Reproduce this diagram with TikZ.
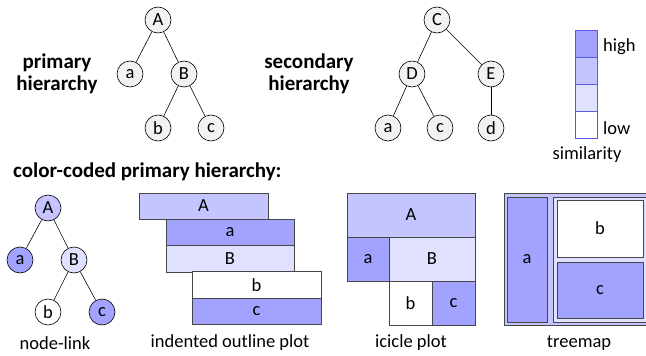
\documentclass[tikz,border=0pt]{standalone}
\usepackage{fontspec}
\setmainfont{Carlito}
\definecolor{cdark}{RGB}{162,162,255}
\definecolor{cmed}{RGB}{196,196,255}
\definecolor{clight}{RGB}{224,224,255}
\definecolor{cgray}{RGB}{242,242,242}
\definecolor{cborder}{RGB}{70,70,70}
\definecolor{clegend}{RGB}{90,90,230}
\begin{document}
\begin{tikzpicture}[x=1pt,y=-1pt,
  tn/.style={circle,draw=black,line width=0.6pt,minimum size=26pt,inner sep=0pt,font=\fontsize{18.5}{18.5}\selectfont},
  gn/.style={tn,fill=cgray},
  edge/.style={line width=0.6pt,black},
  box/.style={draw=cborder,line width=0.8pt,inner sep=0pt,font=\fontsize{18.5}{18.5}\selectfont},
  lab/.style={font=\fontsize{18.5}{18.5}\selectfont,inner sep=0pt},
  head/.style={font=\fontsize{21}{22}\selectfont\bfseries,align=center,inner sep=0pt}]
\useasboundingbox (0,0) rectangle (646,356);
% primary hierarchy
\node[head] (ph) at (57,74) {primary\\hierarchy};
\node[gn] (pA) at (158,20) {A};
\node[gn] (pa) at (130,74) {a};
\node[gn] (pB) at (184,74) {B};
\node[gn] (pb) at (158,128) {b};
\node[gn] (pc) at (211,128) {c};
\draw[edge] (pA) -- (pa); \draw[edge] (pA) -- (pB);
\draw[edge] (pB) -- (pb); \draw[edge] (pB) -- (pc);
% secondary hierarchy
\node[head] (sh) at (309,74) {secondary\\hierarchy};
\node[gn] (sC) at (437,20) {C};
\node[gn] (sD) at (412,74) {D};
\node[gn] (sE) at (491,74) {E};
\node[gn] (sa) at (388,128) {a};
\node[gn] (sc) at (440,128) {c};
\node[gn] (sd) at (491,128) {d};
\draw[edge] (sC) -- (sD); \draw[edge] (sC) -- (sE);
\draw[edge] (sD) -- (sa); \draw[edge] (sD) -- (sc);
\draw[edge] (sE) -- (sd);
% legend
\fill[cdark] (575,30) rectangle (597,57);
\fill[cmed] (575,57) rectangle (597,84);
\fill[clight] (575,84) rectangle (597,111);
\fill[white] (575,111) rectangle (597,138);
\draw[clegend,line width=0.6pt] (575,57) -- (597,57) (575,84) -- (597,84) (575,111) -- (597,111);
\draw[clegend,line width=0.8pt] (575,30) rectangle (597,138);
\node[lab,anchor=west] (lhigh) at (603,47) {high};
\node[lab,anchor=west] (llow) at (603,128) {low};
\node[lab] (lsim) at (587,155) {similarity};
% heading
\node[head,anchor=west] (cc) at (13,172) {color-coded primary hierarchy:};
% node-link
\node[tn,fill=cmed] (nA) at (48,208) {A};
\node[tn,fill=cdark] (na) at (20,260) {a};
\node[tn,fill=clight] (nB) at (74,260) {B};
\node[tn,fill=white] (nb) at (48,312) {b};
\node[tn,fill=cdark] (nc) at (102,312) {c};
\draw[edge] (nA) -- (na); \draw[edge] (nA) -- (nB);
\draw[edge] (nB) -- (nb); \draw[edge] (nB) -- (nc);
\node[lab] (lnl) at (55,343) {node-link};
% indented outline
\node[box,fill=cmed,minimum width=129pt,minimum height=26pt] (oA) at (203.5,206) {A};
\node[box,fill=cdark,minimum width=128pt,minimum height=26.5pt] (oa) at (230,232.5) {a};
\node[box,fill=clight,minimum width=128pt,minimum height=26.5pt] (oB) at (230,259) {B};
\node[box,fill=white,minimum width=129pt,minimum height=26.5pt] (ob) at (256.5,285) {b};
\node[box,fill=cdark,minimum width=129pt,minimum height=26.5pt] (oc) at (256.5,311.5) {c};
\node[lab] (lio) at (230,343) {indented outline plot};
% icicle
\node[box,fill=cmed,minimum width=128pt,minimum height=44pt] (iA) at (411,215) {A};
\node[box,fill=cdark,minimum width=42pt,minimum height=44pt] (ia) at (368,259) {a};
\node[box,fill=clight,minimum width=86pt,minimum height=44pt] (iB) at (432,259) {B};
\node[box,fill=white,minimum width=43pt,minimum height=44pt] (ib) at (410.5,303) {b};
\node[box,fill=cdark,minimum width=43pt,minimum height=44pt] (ic) at (453.5,303) {c};
\node[lab] (lic) at (411,343) {icicle plot};
% treemap
\node[box,fill=cmed,minimum width=146pt,minimum height=132pt] (tA) at (577,259) {};
\node[box,fill=cdark,minimum width=40pt,minimum height=125pt] (ta) at (527,259.5) {a};
\node[box,fill=clight,minimum width=95pt,minimum height=125pt] (tB) at (600.5,259.5) {};
\node[box,fill=white,minimum width=86pt,minimum height=57pt] (tb) at (600,228.5) {b};
\node[box,fill=cdark,minimum width=86pt,minimum height=56pt] (tc) at (600,290) {c};
\node[lab] (ltm) at (579,343) {treemap};
\end{tikzpicture}
\end{document}
